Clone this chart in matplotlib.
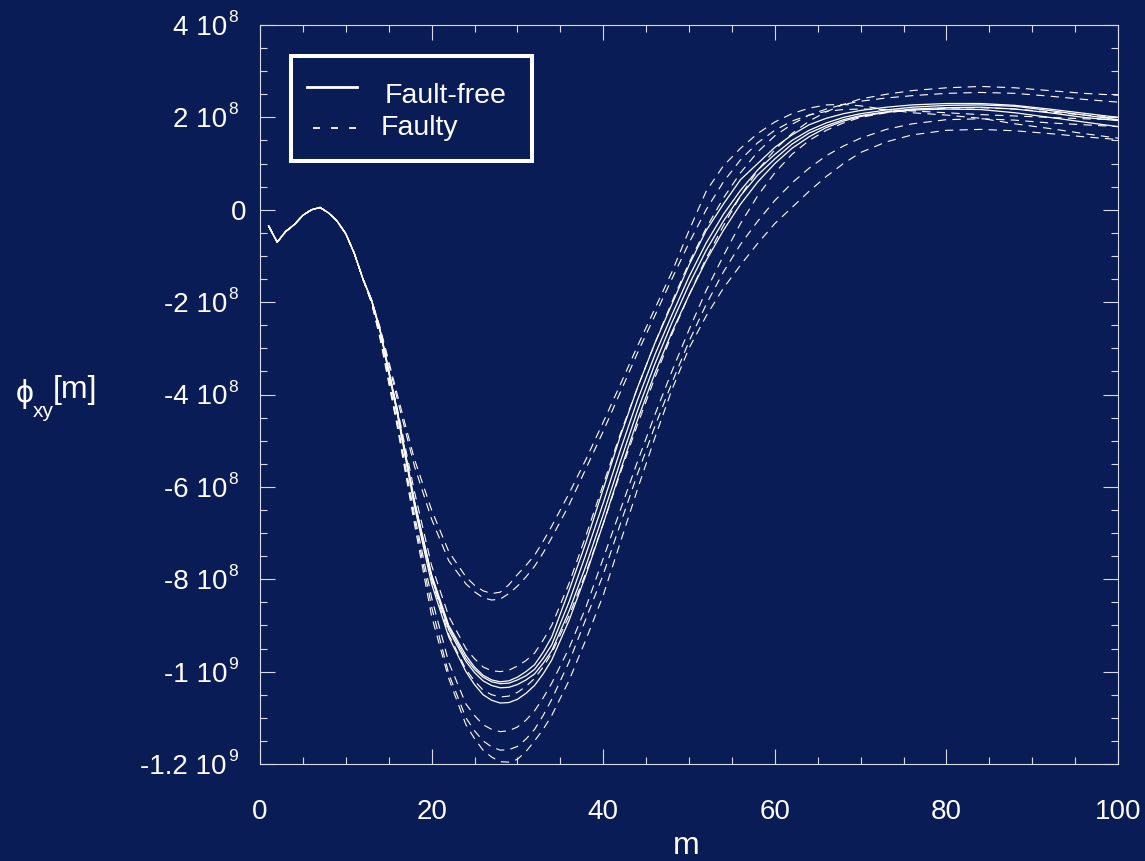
import matplotlib
matplotlib.use('Agg')
import matplotlib.pyplot as plt
from matplotlib.lines import Line2D
from matplotlib.patches import Rectangle
from matplotlib.transforms import blended_transform_factory, ScaledTranslation
from matplotlib.ticker import MultipleLocator, NullFormatter

plt.rcParams['font.family'] = ['Liberation Sans', 'DejaVu Sans']
plt.rcParams['lines.scale_dashes'] = False

# ---------------- data (y in units of 1e8) ----------------
X = [1, 2, 3, 4, 5, 6, 7, 8, 9, 10, 11, 12,
     13, 14, 16, 18, 20, 22, 24,
     25, 26, 27, 28, 29, 30, 31, 32, 33, 34,
     36, 38, 40, 42, 44, 46, 48, 50, 52, 54, 56, 58, 60, 62,
     64, 66, 68, 70, 73, 76, 80, 84, 88, 92, 96, 100]

start = [-0.35, -0.70, -0.47, -0.32, -0.12, 0.0, 0.05, -0.07, -0.25, -0.52, -0.95, -1.5]

S1 = start + [-1.95, -2.6, -4.35, -6.3, -7.9, -9.0, -9.65,
              -9.9, -10.08, -10.18, -10.22, -10.2, -10.12, -10.0, -9.85, -9.58, -9.25,
              -8.25, -7.2, -6.05, -4.9, -3.85, -2.9, -2.05, -1.2, -0.45, 0.12, 0.65, 1.0, 1.35, 1.62,
              1.84, 1.98, 2.08, 2.15, 2.22, 2.27, 2.30, 2.30, 2.26, 2.18, 2.09, 2.0]
S2 = start + [-1.95, -2.6, -4.36, -6.32, -7.93, -9.04, -9.72,
              -9.95, -10.12, -10.22, -10.26, -10.25, -10.18, -10.09, -9.95, -9.71, -9.42,
              -8.5, -7.45, -6.35, -5.2, -4.12, -3.15, -2.28, -1.45, -0.72, -0.1, 0.42, 0.86, 1.2, 1.5,
              1.72, 1.88, 2.0, 2.08, 2.16, 2.22, 2.26, 2.27, 2.24, 2.15, 2.05, 1.95]
S3 = start + [-1.96, -2.62, -4.38, -6.35, -7.97, -9.1, -9.78,
              -10.02, -10.2, -10.3, -10.35, -10.34, -10.28, -10.18, -10.05, -9.82, -9.55,
              -8.7, -7.7, -6.6, -5.45, -4.35, -3.35, -2.45, -1.62, -0.88, -0.25, 0.3, 0.75, 1.1, 1.42,
              1.66, 1.82, 1.95, 2.04, 2.12, 2.18, 2.21, 2.22, 2.18, 2.1, 2.0, 1.93]
S4 = start + [-1.97, -2.64, -4.42, -6.42, -8.1, -9.25, -10.0,
              -10.28, -10.5, -10.62, -10.68, -10.67, -10.6, -10.47, -10.3, -10.05, -9.75,
              -8.9, -7.9, -6.8, -5.65, -4.55, -3.55, -2.65, -1.85, -1.1, -0.45, 0.12, 0.6, 1.0, 1.33,
              1.58, 1.78, 1.92, 2.02, 2.11, 2.16, 2.18, 2.17, 2.1, 2.0, 1.9, 1.8]

D1 = start + [-1.95, -2.55, -4.0, -5.4, -6.5, -7.4, -7.95,
              -8.13, -8.25, -8.31, -8.28, -8.12, -7.9, -7.7, -7.48, -7.18, -6.85,
              -6.15, -5.4, -4.6, -3.78, -2.95, -2.15, -1.35, -0.45, 0.4, 0.95, 1.33, 1.65, 1.9, 2.08,
              2.2, 2.27, 2.28, 2.25, 2.17, 2.1, 2.05, 1.98, 1.86, 1.76, 1.65, 1.55]
D2 = start + [-1.95, -2.58, -4.1, -5.55, -6.7, -7.6, -8.1,
              -8.27, -8.4, -8.45, -8.43, -8.31, -8.15, -7.95, -7.72, -7.43, -7.1,
              -6.4, -5.6, -4.8, -3.95, -3.1, -2.3, -1.5, -0.72, 0.0, 0.6, 1.08, 1.45, 1.72, 1.92,
              2.05, 2.13, 2.17, 2.18, 2.17, 2.14, 2.1, 2.06, 2.03, 2.0, 1.97, 1.95]
D3 = start + [-1.98, -2.65, -4.3, -6.1, -7.7, -8.8, -9.5,
              -9.72, -9.9, -9.98, -10.0, -9.97, -9.88, -9.76, -9.6, -9.32, -9.0,
              -8.1, -7.05, -5.95, -4.85, -3.85, -2.9, -2.0, -1.15, -0.4, 0.25, 0.8, 1.25, 1.6, 1.85,
              2.05, 2.18, 2.28, 2.35, 2.42, 2.47, 2.52, 2.54, 2.52, 2.46, 2.39, 2.33]
D4 = start + [-2.0, -2.7, -4.45, -6.35, -8.0, -9.2, -9.95,
              -10.2, -10.4, -10.5, -10.55, -10.53, -10.45, -10.32, -10.15, -9.9, -9.6,
              -8.8, -7.85, -6.8, -5.7, -4.65, -3.65, -2.7, -1.85, -1.05, -0.35, 0.3, 0.85, 1.3, 1.65,
              1.92, 2.12, 2.28, 2.4, 2.5, 2.58, 2.64, 2.67, 2.64, 2.58, 2.52, 2.48]
D5 = start + [-2.0, -2.75, -4.6, -6.6, -8.4, -9.8, -10.7,
              -10.95, -11.15, -11.25, -11.3, -11.28, -11.2, -11.05, -10.85, -10.57, -10.25,
              -9.5, -8.6, -7.55, -6.5, -5.45, -4.45, -3.5, -2.6, -1.75, -1.0, -0.3, 0.3, 0.8, 1.2,
              1.5, 1.72, 1.88, 2.0, 2.1, 2.16, 2.2, 2.21, 2.18, 2.12, 2.05, 2.0]
D6 = start + [-2.0, -2.75, -4.65, -6.7, -8.6, -10.05, -11.0,
              -11.28, -11.5, -11.63, -11.7, -11.69, -11.62, -11.46, -11.25, -10.95, -10.6,
              -9.8, -8.85, -7.9, -6.8, -5.72, -4.7, -3.75, -2.85, -2.05, -1.35, -0.75, -0.25, 0.2, 0.58,
              0.9, 1.17, 1.38, 1.55, 1.74, 1.86, 1.95, 1.97, 1.94, 1.88, 1.84, 1.8]
D7 = start + [-2.02, -2.8, -4.7, -6.8, -8.8, -10.15, -11.15,
              -11.45, -11.7, -11.85, -11.95, -11.96, -11.9, -11.73, -11.5, -11.25, -10.95,
              -10.2, -9.3, -8.35, -7.2, -6.05, -4.95, -3.9, -3.0, -2.3, -1.7, -1.2, -0.73, -0.3, 0.05,
              0.4, 0.72, 1.0, 1.24, 1.47, 1.62, 1.72, 1.74, 1.71, 1.65, 1.58, 1.52]

solid_curves = [S1, S2, S3, S4]
dashed_curves = [D1, D2, D3, D4, D5, D6, D7]

y_ticks = [4e8, 2e8, 0, -2e8, -4e8, -6e8, -8e8, -1e9, -1.2e9]
y_tick_base = ['4 10', '2 10', '0', '-2 10', '-4 10', '-6 10', '-8 10', '-1 10', '-1.2 10']
y_tick_exp = ['8', '8', '', '8', '8', '8', '8', '9', '9']
x_ticks = [0, 20, 40, 60, 80, 100]
x_tick_labels = ['0', '20', '40', '60', '80', '100']
legend_labels = ['Fault-free', 'Faulty']

# ---------------- figure ----------------
W, H, DPI = 1145, 861, 100
BG = '#0a1c56'
FG = 'white'
fig = plt.figure(figsize=(W / DPI, H / DPI), dpi=DPI)
fig.patch.set_facecolor(BG)
ax = fig.add_axes([260 / W, 1 - 764 / H, 858 / W, 739 / H])
ax.set_facecolor(BG)

scale = 1e8
for c in solid_curves:
    ax.plot(X, [v * scale for v in c], color=FG, lw=0.9, solid_joinstyle='round')
for c in dashed_curves:
    ax.plot(X, [v * scale for v in c], color=FG, lw=0.8, dashes=(6, 4.5))

ax.set_xlim(0, 100)
ax.set_ylim(-1.2e9, 4e8)

for s in ax.spines.values():
    s.set_color('#d8dce8')
    s.set_linewidth(0.8)

ax.xaxis.set_major_locator(MultipleLocator(20))
ax.xaxis.set_minor_locator(MultipleLocator(5))
ax.yaxis.set_major_locator(MultipleLocator(2e8))
ax.yaxis.set_minor_locator(MultipleLocator(5e7))
ax.tick_params(which='both', direction='in', top=True, right=True,
               colors='#d8dce8', width=0.8)
ax.tick_params(which='major', length=10.5)
ax.tick_params(which='minor', length=5)
ax.xaxis.set_major_formatter(NullFormatter())
ax.yaxis.set_major_formatter(NullFormatter())

# y tick labels (manual, with superscript exponent)
tr = blended_transform_factory(ax.transAxes, ax.transData)
px = 1.0 / DPI
for yv, b, e in zip(y_ticks, y_tick_base, y_tick_exp):
    if e:
        ax.text(-33 / 858, yv, b, transform=tr + ScaledTranslation(0, -10 * px, fig.dpi_scale_trans),
                ha='right', va='baseline', color=FG, fontsize=20)
        ax.text(-33 / 858, yv, e, transform=tr + ScaledTranslation(1 * px, 3 * px, fig.dpi_scale_trans),
                ha='left', va='baseline', color=FG, fontsize=12.5)
    else:
        ax.text(-14 / 858, yv, b, transform=tr + ScaledTranslation(0, -10 * px, fig.dpi_scale_trans),
                ha='right', va='baseline', color=FG, fontsize=20)

trx = blended_transform_factory(ax.transData, ax.transAxes)
for xv, lab in zip(x_ticks, x_tick_labels):
    ax.text(xv, 0, lab, transform=trx + ScaledTranslation(0, -55 * px, fig.dpi_scale_trans),
            ha='center', va='baseline', color=FG, fontsize=20)

# axis labels
fig.text(686 / W, 1 - 854 / H, 'm', ha='center', va='baseline', color=FG, fontsize=23)
fig.text(16 / W, 1 - 402 / H, 'ϕ', ha='left', va='baseline', color=FG, fontsize=23)
fig.text(33 / W, 1 - 417 / H, 'xy', ha='left', va='baseline', color=FG, fontsize=15)
fig.text(53 / W, 1 - 398 / H, '[m]', ha='left', va='baseline', color=FG, fontsize=23)

# legend (manual box)
fig.patches.append(Rectangle((291 / W, 1 - 161 / H), 241 / W, 105 / H, transform=fig.transFigure,
                             fill=False, edgecolor=FG, linewidth=2.9))
fig.lines.append(Line2D([307 / W, 357 / W], [1 - 87 / H, 1 - 87 / H], transform=fig.transFigure,
                        color=FG, lw=2.0))
fig.lines.append(Line2D([313 / W, 357 / W], [1 - 128 / H, 1 - 128 / H], transform=fig.transFigure,
                        color=FG, lw=1.3, dashes=(5, 8)))
fig.text(385 / W, 1 - 103 / H, legend_labels[0], ha='left', va='baseline', color=FG, fontsize=20.5)
fig.text(381 / W, 1 - 135 / H, legend_labels[1], ha='left', va='baseline', color=FG, fontsize=20.5)

fig.savefig('out.png', dpi=DPI, facecolor=BG)
